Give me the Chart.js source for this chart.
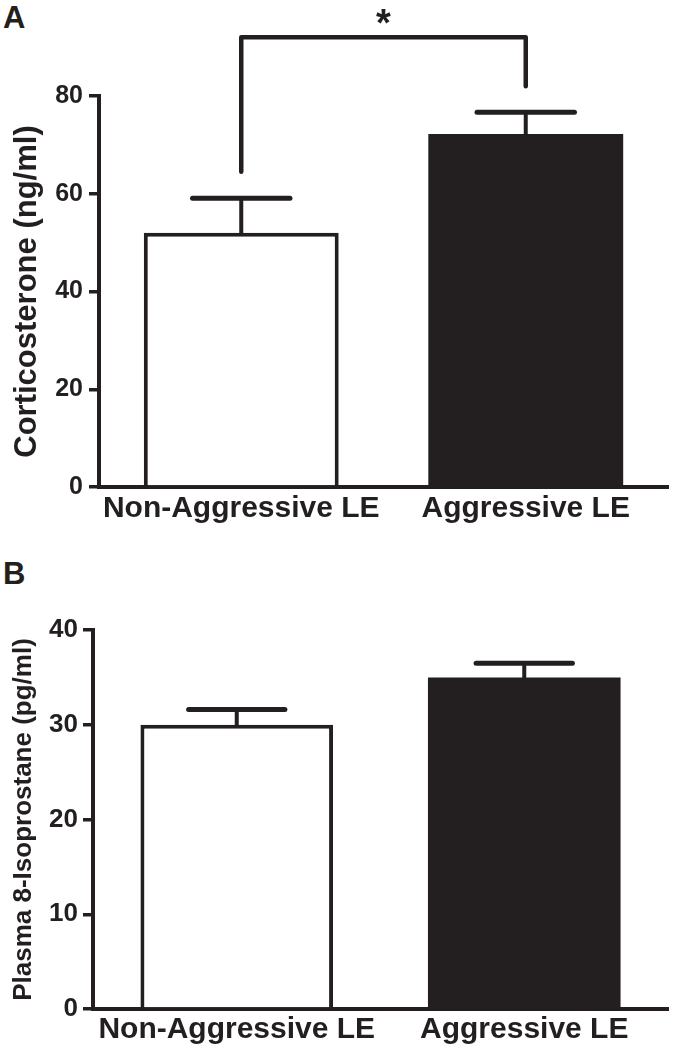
<!DOCTYPE html>
<html>
<head>
<meta charset="utf-8">
<script src="https://cdn.jsdelivr.net/npm/chart.js@4/dist/chart.umd.min.js"></script>
<style>
  body { margin: 0; background: #fff; }
  #wrap { position: relative; width: 674px; height: 1050px; font-family: 'Liberation Sans', Arial, sans-serif; }
  .panel { position: absolute; left: 3px; font-weight: bold; font-size: 31px; color: #231f20; line-height: 1; }
  canvas { position: absolute; left: 0; }
</style>
</head>
<body>
<div id="wrap">
  <div class="panel" style="top:2px">A</div>
  <div class="panel" style="top:558px">B</div>
  <canvas id="chartA" width="674" height="540" style="top:0"></canvas>
  <canvas id="chartB" width="674" height="510" style="top:540px"></canvas>
</div>
<script>
// === Corticosterone / 8-Isoprostane bar charts ===

const categories = ['Non-Aggressive LE', 'Aggressive LE'];

// panel A
const corticosterone = [52, 72.2];
const corticosteroneSem = [7.1, 4.5];
const corticoTicks = [0, 20, 40, 60, 80];
// significance bracket (values on the y scale)
const bracketTop = 92;
const bracketEnds = [64.5, 82];
const bracketLabel = '*';

// panel B
const isoprostane = [30, 35];
const isoprostaneSem = [1.6, 1.5];
const isoTicks = [0, 10, 20, 30, 40];

const INK = '#231f20';
const FONT = "'Liberation Sans', Arial, sans-serif";

// error bars drawn on top of the bars
const errorBarPlugin = {
    id: 'errorBars',
    afterDatasetsDraw(chart) {
        const sem = chart.options.plugins.errorBars.sem;
        const meta = chart.getDatasetMeta(0);
        const yScale = chart.scales.y;
        const values = chart.data.datasets[0].data;
        const ctx = chart.ctx;
        ctx.save();
        ctx.strokeStyle = INK;
        ctx.lineCap = 'round';
        meta.data.forEach((bar, i) => {
            const top = yScale.getPixelForValue(values[i]);
            const end = yScale.getPixelForValue(values[i] + sem[i]);
            const half = bar.width * 0.25;
            ctx.lineWidth = 4;
            ctx.beginPath();
            ctx.moveTo(bar.x, top);
            ctx.lineTo(bar.x, end);
            ctx.stroke();
            ctx.lineWidth = 5;
            ctx.beginPath();
            ctx.moveTo(bar.x - half, end);
            ctx.lineTo(bar.x + half, end);
            ctx.stroke();
        });
        ctx.restore();
    }
};

// significance bracket for panel A
const bracketPlugin = {
    id: 'bracket',
    afterDatasetsDraw(chart) {
        const opts = chart.options.plugins.bracket;
        if (!opts || !opts.show) return;
        const meta = chart.getDatasetMeta(0);
        const y = chart.scales.y;
        const ctx = chart.ctx;
        const x1 = meta.data[0].x, x2 = meta.data[1].x;
        const yTop = y.getPixelForValue(bracketTop);
        ctx.save();
        ctx.strokeStyle = INK;
        ctx.lineWidth = 4.5;
        ctx.lineCap = 'round';
        ctx.lineJoin = 'round';
        ctx.beginPath();
        ctx.moveTo(x1, y.getPixelForValue(bracketEnds[0]));
        ctx.lineTo(x1, yTop);
        ctx.lineTo(x2, yTop);
        ctx.lineTo(x2, y.getPixelForValue(bracketEnds[1]));
        ctx.stroke();
        ctx.fillStyle = INK;
        ctx.font = 'bold 38px ' + FONT;
        ctx.textAlign = 'center';
        ctx.textBaseline = 'alphabetic';
        ctx.fillText(bracketLabel, (x1 + x2) / 2, yTop - 1);
        ctx.restore();
    }
};

function makeChart(id, values, sem, ticks, yTitle, cfg) {
    const ctx = document.getElementById(id).getContext('2d');
    return new Chart(ctx, {
        type: 'bar',
        data: {
            labels: categories,
            datasets: [{
                data: values,
                backgroundColor: ['#ffffff', INK],
                borderColor: INK,
                borderWidth: [4, 0],
                borderSkipped: 'start',
                barPercentage: cfg.barPct,
                categoryPercentage: 1
            }]
        },
        options: {
            responsive: false,
            animation: false,
            layout: { padding: { top: cfg.top, right: 6, left: 0, bottom: 0 } },
            plugins: {
                legend: { display: false },
                tooltip: { enabled: false },
                errorBars: { sem: sem },
                bracket: { show: cfg.bracket }
            },
            scales: {
                x: {
                    grid: { display: false, drawTicks: false },
                    border: { display: true, color: INK, width: 4 },
                    ticks: {
                        color: INK, padding: cfg.xPad, autoSkip: false,
                        maxRotation: 0, minRotation: 0,
                        font: { family: FONT, size: 30, weight: 'bold' }
                    },
                    afterFit: (s) => { s.height = cfg.xHeight; }
                },
                y: {
                    min: ticks[0],
                    max: ticks[ticks.length - 1],
                    afterBuildTicks: (s) => { s.ticks = ticks.map(v => ({ value: v })); },
                    afterFit: (s) => { s.width = cfg.yWidth; },
                    grid: { drawOnChartArea: false, drawTicks: true, tickLength: 10, color: INK, lineWidth: 3.5 },
                    border: { display: true, color: INK, width: 4 },
                    ticks: { color: INK, padding: cfg.yPad, font: { family: FONT, size: cfg.tickSize, weight: 'bold' } },
                    title: {
                        display: true,
                        text: yTitle,
                        color: INK,
                        padding: { top: cfg.titlePad, bottom: 0 },
                        font: { family: FONT, size: cfg.titleSize, weight: 'bold' }
                    }
                }
            }
        },
        plugins: [errorBarPlugin, bracketPlugin]
    });
}

makeChart('chartA', corticosterone, corticosteroneSem, corticoTicks, 'Corticosterone (ng/ml)', {
    top: 96, xHeight: 53, yWidth: 99, barPct: 0.685, xPad: 4, yPad: 6,
    tickSize: 25, titleSize: 31, titlePad: 9, bracket: true
});

makeChart('chartB', isoprostane, isoprostaneSem, isoTicks, 'Plasma 8-Isoprostane (pg/ml)', {
    top: 90, xHeight: 41, yWidth: 93, barPct: 0.67, xPad: 3, yPad: 5,
    tickSize: 26, titleSize: 26, titlePad: 8, bracket: false
});
</script>
</body>
</html>
